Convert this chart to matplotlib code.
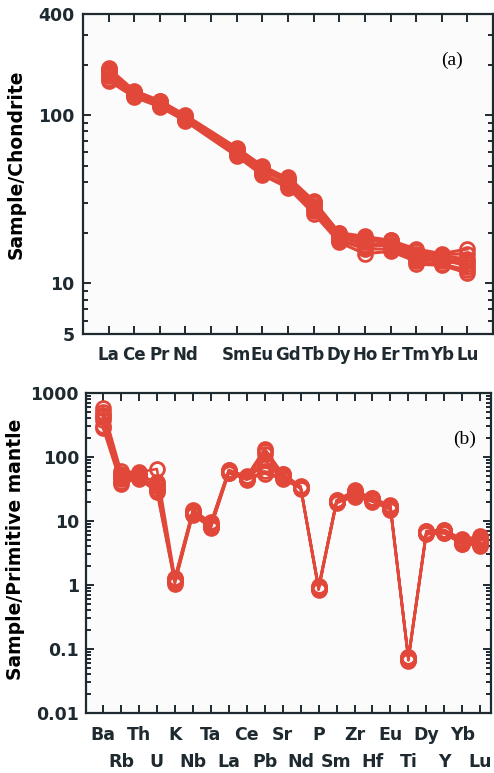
import numpy as np
import matplotlib
matplotlib.use("Agg")
import matplotlib.pyplot as plt
from matplotlib.ticker import LogLocator, NullFormatter

plt.rcParams['font.family'] = ['DejaVu Sans']

red = "#e2483a"
dark = "#1e2a30"

# --- (a) chondrite-normalised REE ---
ree = ["La", "Ce", "Pr", "Nd", "Pm", "Sm", "Eu", "Gd", "Tb", "Dy", "Ho", "Er", "Tm", "Yb", "Lu"]
ree_used = ["La", "Ce", "Pr", "Nd", "Sm", "Eu", "Gd", "Tb", "Dy", "Ho", "Er", "Tm", "Yb", "Lu"]
ree_samples = [
    [190, 140, 122, 100, 64, 50, 42, 30, 20.0, 19.0, 18.0, 16.0, 15.0, 16.0],
    [180, 135, 118, 97, 60, 47, 40, 29, 19.0, 17.0, 17.0, 15.0, 14.5, 14.0],
    [170, 132, 115, 95, 58, 45, 38, 27, 18.0, 16.0, 16.0, 14.0, 13.5, 13.0],
    [160, 128, 112, 92, 57, 44, 37, 26, 17.5, 15.0, 15.5, 13.5, 13.0, 12.0],
    [185, 138, 120, 99, 62, 48, 41, 30, 19.5, 18.0, 17.5, 15.5, 14.8, 15.0],
    [175, 133, 117, 96, 59, 46, 42, 28, 18.5, 17.5, 16.5, 14.5, 14.0, 13.5],
    [165, 130, 114, 94, 61, 49, 39, 27.5, 18.0, 16.5, 17.0, 13.0, 12.8, 11.5],
    [188, 137, 121, 98, 63, 45, 43, 31, 20.0, 18.5, 18.0, 14.0, 14.2, 12.5],
]

# --- (b) primitive-mantle-normalised trace elements ---
trace = ["Ba", "Rb", "Th", "U", "K", "Nb", "Ta", "La", "Ce", "Pb", "Sr",
         "Nd", "P", "Sm", "Zr", "Hf", "Eu", "Ti", "Dy", "Y", "Yb", "Lu"]
trace_samples = [
    [580, 60, 58, 65, 1.30, 15.0, 9.5, 63, 50, 135, 55, 35.0, 0.95, 21.0, 30, 23.0, 17.5, 0.075, 7.0, 7.3, 5.2, 5.8],
    [450, 50, 52, 40, 1.20, 14.0, 8.8, 60, 48, 110, 52, 34.0, 0.90, 20.5, 28, 22.0, 16.5, 0.072, 6.8, 7.0, 4.8, 5.2],
    [380, 45, 48, 35, 1.15, 13.5, 8.5, 58, 46, 90, 50, 33.0, 0.88, 20.0, 26, 21.0, 16.0, 0.070, 6.5, 6.8, 4.6, 4.8],
    [300, 40, 47, 30, 1.05, 12.5, 7.8, 56, 45, 60, 47, 32.0, 0.84, 19.0, 24, 20.0, 15.0, 0.066, 6.2, 6.4, 4.3, 4.2],
    [500, 55, 55, 38, 1.25, 14.5, 9.0, 62, 49, 125, 54, 34.5, 0.92, 21.0, 29, 22.5, 17.0, 0.074, 6.9, 7.2, 5.0, 5.5],
    [280, 38, 46, 28, 1.10, 13.0, 8.0, 57, 44, 55, 45, 32.5, 0.86, 19.5, 25, 21.0, 15.5, 0.068, 6.4, 6.6, 4.4, 4.5],
    [420, 48, 50, 32, 1.20, 13.8, 8.2, 59, 47, 75, 49, 33.5, 0.90, 20.0, 27, 21.5, 16.0, 0.071, 6.6, 6.9, 4.7, 4.0],
]

fig = plt.figure(figsize=(4.94, 7.73), dpi=100)
fig.patch.set_facecolor("white")

ax1 = fig.add_axes([0.168, 0.568, 0.830, 0.414])
ax2 = fig.add_axes([0.174, 0.0776, 0.820, 0.414])

for ax in (ax1, ax2):
    ax.set_facecolor("#fbfbfb")
    ax.set_yscale("log")
    for s in ax.spines.values():
        s.set_linewidth(1.6)
        s.set_color(dark)
    ax.tick_params(which="both", direction="in", top=True, right=True,
                   colors=dark, width=1.4)
    ax.tick_params(which="major", length=6)
    ax.tick_params(which="minor", length=3.5)
    ax.yaxis.set_minor_locator(LogLocator(base=10, subs=np.arange(2, 10)))
    ax.yaxis.set_minor_formatter(NullFormatter())

# panel a
xa = [ree.index(e) + 1 for e in ree_used]
for s in ree_samples:
    ax1.plot(xa, s, color=red, lw=2.2, marker="o", ms=10, mfc="none",
             mec=red, mew=2.0)
ax1.set_xlim(0, 16)
ax1.set_ylim(5, 400)
ax1.set_xticks(range(1, 16))
ax1.set_xticklabels([e if e != "Pm" else "" for e in ree], fontsize=12,
                    fontweight="bold")
ax1.set_yticks([5, 10, 100, 400])
ax1.set_yticklabels(["5", "10", "100", "400"], fontsize=12.5, fontweight="bold")
ax1.tick_params(axis="x", which="major", pad=9)
ax1.tick_params(axis="y", which="major", pad=6)
ax1.set_ylabel("Sample/Chondrite", fontsize=13.5, fontweight="bold")
ax1.yaxis.set_label_coords(-0.141, 0.53)
ax1.text(0.90, 0.855, "(a)", transform=ax1.transAxes, fontsize=14,
         family="Liberation Serif", ha="center", va="center")

# panel b: labels in two staggered rows (odd rows on minor ticks)
xb = np.arange(1, len(trace) + 1)
for s in trace_samples:
    ax2.plot(xb, s, color=red, lw=1.8, marker="o", ms=10, mfc="none",
             mec=red, mew=2.0)
ax2.set_xlim(0.05, 22.6)
ax2.set_ylim(0.01, 1000)
ax2.set_xticks(xb[0::2])
ax2.set_xticklabels(trace[0::2], fontsize=12.5, fontweight="bold")
ax2.set_xticks(xb[1::2], minor=True)
ax2.set_xticklabels(trace[1::2], minor=True, fontsize=12.5, fontweight="bold")
ax2.tick_params(axis="x", which="major", pad=9)
ax2.tick_params(axis="x", which="minor", length=6, pad=28.5)
ax2.tick_params(axis="y", which="major", pad=5)
ax2.set_yticks([0.01, 0.1, 1, 10, 100, 1000])
ax2.set_yticklabels(["0.01", "0.1", "1", "10", "100", "1000"], fontsize=12.5,
                    fontweight="bold")
ax2.set_ylabel("Sample/Primitive mantle", fontsize=13.5, fontweight="bold")
ax2.yaxis.set_label_coords(-0.151, 0.51)
ax2.text(0.935, 0.855, "(b)", transform=ax2.transAxes, fontsize=14,
         family="Liberation Serif", ha="center", va="center")

fig.savefig("out.png", dpi=100, facecolor=fig.get_facecolor())
